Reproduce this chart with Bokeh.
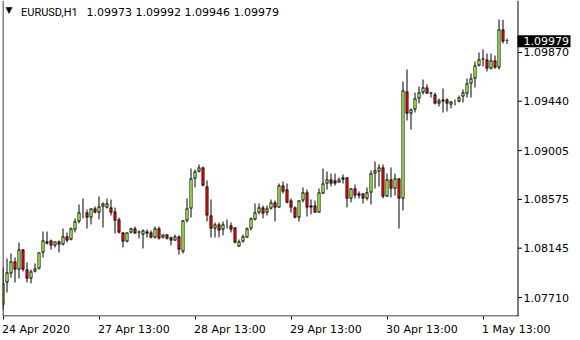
from bokeh.plotting import figure
from bokeh.models import Range1d, FixedTicker, Label, ColumnDataSource, LinearAxis
from bokeh.core.properties import value
from bokeh.embed import file_html
from bokeh.resources import INLINE

symbol = "EURUSD,H1"

opens = [1.07648, 1.07842, 1.07922, 1.08027, 1.07957, 1.08133, 1.07957, 1.07878, 1.07939, 1.07966,
         1.08107, 1.08186, 1.08213, 1.08169, 1.08204, 1.08177, 1.08248, 1.08221, 1.08310, 1.08380,
         1.08459, 1.08459, 1.08415, 1.08495, 1.08459, 1.08512, 1.08504, 1.08504, 1.08468, 1.08398,
         1.08283, 1.08204, 1.08283, 1.08318, 1.08292, 1.08265, 1.08274, 1.08283, 1.08239, 1.08318,
         1.08239, 1.08265, 1.08239, 1.08213, 1.08248, 1.08116, 1.08389, 1.08495, 1.08759, 1.08821,
         1.08856, 1.08689, 1.08433, 1.08318, 1.08354, 1.08310, 1.08345, 1.08345, 1.08327, 1.08160,
         1.08204, 1.08239, 1.08318, 1.08398, 1.08459, 1.08504, 1.08459, 1.08495, 1.08548, 1.08504,
         1.08697, 1.08662, 1.08565, 1.08504, 1.08415, 1.08565, 1.08636, 1.08521, 1.08521, 1.08459,
         1.08627, 1.08715, 1.08750, 1.08742, 1.08724, 1.08750, 1.08768, 1.08583, 1.08671, 1.08627,
         1.08627, 1.08583, 1.08636, 1.08803, 1.08821, 1.08856, 1.08601, 1.08750, 1.08671, 1.08759,
         1.08583, 1.09526, 1.09332, 1.09368, 1.09465, 1.09517, 1.09561, 1.09517, 1.09500, 1.09420,
         1.09438, 1.09456, 1.09412, 1.09438, 1.09438, 1.09482, 1.09509, 1.09597, 1.09641, 1.09755,
         1.09808, 1.09808, 1.09729, 1.09799, 1.09738, 1.10073, 1.09973]

highs = [1.07975, 1.08054, 1.08098, 1.08063, 1.08195, 1.08136, 1.08019, 1.07957, 1.08010, 1.08107,
         1.08292, 1.08292, 1.08221, 1.08204, 1.08213, 1.08318, 1.08283, 1.08327, 1.08407, 1.08530,
         1.08583, 1.08486, 1.08495, 1.08512, 1.08601, 1.08548, 1.08583, 1.08574, 1.08504, 1.08415,
         1.08286, 1.08283, 1.08327, 1.08336, 1.08301, 1.08310, 1.08310, 1.08301, 1.08336, 1.08336,
         1.08265, 1.08268, 1.08248, 1.08265, 1.08257, 1.08392, 1.08583, 1.08847, 1.08839, 1.08883,
         1.08865, 1.08742, 1.08574, 1.08371, 1.08371, 1.08380, 1.08398, 1.08371, 1.08330, 1.08221,
         1.08265, 1.08327, 1.08415, 1.08539, 1.08539, 1.08521, 1.08521, 1.08574, 1.08565, 1.08715,
         1.08733, 1.08715, 1.08583, 1.08512, 1.08568, 1.08680, 1.08662, 1.08574, 1.08565, 1.08671,
         1.08847, 1.08821, 1.08803, 1.08803, 1.08768, 1.08794, 1.08771, 1.08674, 1.08706, 1.08645,
         1.08630, 1.08680, 1.08830, 1.08909, 1.08883, 1.08883, 1.08803, 1.08856, 1.08803, 1.08762,
         1.09614, 1.09720, 1.09376, 1.09517, 1.09570, 1.09632, 1.09588, 1.09520, 1.09517, 1.09465,
         1.09553, 1.09465, 1.09441, 1.09456, 1.09491, 1.09544, 1.09641, 1.09685, 1.09791, 1.09870,
         1.09897, 1.09861, 1.09861, 1.09844, 1.10161, 1.10158, 1.09992]

lows = [1.07604, 1.07754, 1.07886, 1.07842, 1.07878, 1.07939, 1.07842, 1.07834, 1.07931, 1.07957,
        1.08063, 1.08177, 1.08133, 1.08151, 1.08107, 1.08169, 1.08195, 1.08213, 1.08283, 1.08363,
        1.08407, 1.08318, 1.08354, 1.08451, 1.08398, 1.08327, 1.08495, 1.08433, 1.08274, 1.08274,
        1.08151, 1.08195, 1.08274, 1.08274, 1.08230, 1.08142, 1.08239, 1.08230, 1.08230, 1.08221,
        1.08230, 1.08221, 1.08169, 1.08210, 1.08089, 1.08098, 1.08371, 1.08415, 1.08680, 1.08812,
        1.08689, 1.08380, 1.08239, 1.08239, 1.08239, 1.08257, 1.08318, 1.08283, 1.08186, 1.08157,
        1.08195, 1.08236, 1.08301, 1.08389, 1.08442, 1.08407, 1.08433, 1.08486, 1.08380, 1.08501,
        1.08627, 1.08539, 1.08459, 1.08407, 1.08380, 1.08548, 1.08424, 1.08442, 1.08456, 1.08456,
        1.08624, 1.08662, 1.08689, 1.08697, 1.08721, 1.08715, 1.08504, 1.08548, 1.08583, 1.08583,
        1.08539, 1.08565, 1.08530, 1.08671, 1.08689, 1.08583, 1.08598, 1.08592, 1.08609, 1.08318,
        1.08477, 1.09271, 1.09191, 1.09341, 1.09420, 1.09500, 1.09506, 1.09473, 1.09412, 1.09394,
        1.09341, 1.09350, 1.09376, 1.09403, 1.09429, 1.09429, 1.09473, 1.09473, 1.09561, 1.09747,
        1.09747, 1.09703, 1.09720, 1.09726, 1.09720, 1.09949, 1.09946]

closes = [1.07834, 1.07931, 1.08027, 1.07957, 1.08133, 1.07957, 1.07878, 1.07939, 1.07966, 1.08107,
          1.08213, 1.08204, 1.08169, 1.08204, 1.08177, 1.08248, 1.08213, 1.08318, 1.08380, 1.08459,
          1.08460, 1.08415, 1.08495, 1.08459, 1.08512, 1.08539, 1.08539, 1.08459, 1.08389, 1.08283,
          1.08204, 1.08283, 1.08318, 1.08274, 1.08283, 1.08301, 1.08292, 1.08239, 1.08318, 1.08230,
          1.08265, 1.08230, 1.08213, 1.08248, 1.08133, 1.08389, 1.08495, 1.08759, 1.08821, 1.08856,
          1.08697, 1.08433, 1.08318, 1.08354, 1.08301, 1.08354, 1.08345, 1.08310, 1.08195, 1.08204,
          1.08248, 1.08318, 1.08407, 1.08459, 1.08504, 1.08451, 1.08495, 1.08548, 1.08504, 1.08697,
          1.08645, 1.08548, 1.08504, 1.08415, 1.08565, 1.08636, 1.08504, 1.08504, 1.08459, 1.08636,
          1.08715, 1.08750, 1.08715, 1.08715, 1.08750, 1.08768, 1.08583, 1.08671, 1.08609, 1.08609,
          1.08583, 1.08636, 1.08803, 1.08830, 1.08856, 1.08601, 1.08750, 1.08671, 1.08759, 1.08583,
          1.09535, 1.09332, 1.09368, 1.09465, 1.09517, 1.09561, 1.09509, 1.09509, 1.09420, 1.09447,
          1.09456, 1.09420, 1.09438, 1.09438, 1.09473, 1.09517, 1.09597, 1.09641, 1.09755, 1.09808,
          1.09817, 1.09729, 1.09799, 1.09738, 1.10073, 1.09967, 1.09979]

x_tick_bars = [0, 24, 48, 72, 96, 120]
x_tick_labels = ["24 Apr 2020", "27 Apr 13:00", "28 Apr 13:00", "29 Apr 13:00", "30 Apr 13:00", "1 May 13:00"]
y_ticks = [1.07710, 1.08145, 1.08575, 1.09005, 1.09440, 1.09870]

# ---- layout (pixels) ----
W, H = 580, 340
FRAME_L, FRAME_H = 2, 316
FRAME_W = W - FRAME_L          # frame runs to the canvas edge; price scale drawn inside it
CHART_R = 517                  # right edge of the candle area (price scale line)
BAR_PX = 4
X0 = -0.125
Y_TOP, Y_BOT = 1.103284, 1.075425
PX_Y = (Y_TOP - Y_BOT) / FRAME_H
FONT = "DejaVu Sans"
FSIZE = 11

def px_to_x(px):
    return X0 + (px - FRAME_L) / BAR_PX

def py_to_y(py):
    return Y_TOP - py * PX_Y

CHAR_EM = {" ": 0.318, ":": 0.337, "A": 0.684, "M": 0.863, "p": 0.635, "r": 0.411,
           "a": 0.613, "y": 0.592}
def text_px(s):
    return sum(CHAR_EM.get(ch, 0.636) for ch in s) * FSIZE

n = len(opens)
BULL, BEAR = "#8ee635", "#e00000"
tops = [max(o, c) for o, c in zip(opens, closes)]
bots = [min(o, c) for o, c in zip(opens, closes)]
inner_top = [t - PX_Y for t in tops]
inner_bot = [b + PX_Y for b in bots]
inner_ok = [it > ib for it, ib in zip(inner_top, inner_bot)]
src = ColumnDataSource(dict(
    x=list(range(n)), high=highs, low=lows, top=tops, bottom=bots,
    itop=[t if ok else b for t, b, ok in zip(inner_top, inner_bot, inner_ok)],
    ibot=inner_bot,
    fill=[BULL if c >= o else BEAR for o, c in zip(opens, closes)],
    ialpha=[1.0 if ok else 0.0 for ok in inner_ok],
))

p = figure(width=W, height=H, output_backend="svg", toolbar_location=None,
           x_range=Range1d(X0, X0 + FRAME_W / BAR_PX), y_range=Range1d(Y_BOT, Y_TOP),
           y_axis_location=None, x_axis_location=None,
           min_border_left=FRAME_L, min_border_right=0,
           min_border_top=0, min_border_bottom=H - FRAME_H)
p.background_fill_color = "white"
p.border_fill_color = "white"
p.outline_line_color = None
p.grid.visible = False

# candles: wicks, black body, coloured core
p.segment(x0="x", y0="high", x1="x", y1="low", line_color="black", line_width=1, source=src)
p.vbar(x="x", width=0.75, top="top", bottom="bottom", fill_color="black",
       line_alpha=0, source=src)
p.vbar(x="x", width=0.45, top="itop", bottom="ibot", fill_color="fill", fill_alpha="ialpha",
       line_alpha=0, source=src)

# chart borders (left, right, bottom)
xl, xr = px_to_x(FRAME_L + 0.5), px_to_x(CHART_R + 0.5)
yb = py_to_y(FRAME_H - 0.5)
p.segment(x0=[xl, xr, xl], y0=[Y_BOT, Y_BOT, yb], x1=[xl, xr, xr], y1=[Y_TOP, Y_TOP, yb],
          line_color="black", line_width=1)

# price scale: ticks and labels at the y scale positions
p.segment(x0=[xr] * len(y_ticks), y0=y_ticks, x1=[px_to_x(CHART_R + 4.5)] * len(y_ticks),
          y1=y_ticks, line_color="black", line_width=1)
p.text(x=[px_to_x(CHART_R + 6)] * len(y_ticks), y=y_ticks, text=[f"{v:.5f}" for v in y_ticks],
       text_font=value(FONT), text_font_size=value(f"{FSIZE}px"), text_color="black",
       text_baseline="middle", text_align="left")

# last price marker
last = closes[-1]
p.quad(left=[px_to_x(CHART_R)], right=[px_to_x(570)], top=[last + 5 * PX_Y],
       bottom=[last - 7 * PX_Y], fill_color="black", line_alpha=0)
p.text(x=[px_to_x(CHART_R + 6)], y=[last - 1 * PX_Y], text=[f"{last:.5f}"],
       text_font=value(FONT), text_font_size=value(f"{FSIZE}px"), text_color="white",
       text_baseline="middle", text_align="left")

# x axis: ticks only (labels not drawn)
tick_ax = LinearAxis(ticker=FixedTicker(ticks=x_tick_bars))
tick_ax.major_label_text_font_size = "0px"
tick_ax.major_label_text_color = None
tick_ax.major_label_standoff = 0
tick_ax.minor_tick_line_color = None
tick_ax.major_tick_in = 0
tick_ax.major_tick_out = 3
tick_ax.axis_line_color = None
tick_ax.major_tick_line_color = "black"
p.add_layout(tick_ax, "below")

# x axis: labels, placed so that each starts at its tick
shifted = [b + (text_px(t) / 2 - 1) / BAR_PX for b, t in zip(x_tick_bars, x_tick_labels)]
lab_ax = LinearAxis(ticker=FixedTicker(ticks=shifted))
lab_ax.major_label_overrides = {s: t for s, t in zip(shifted, x_tick_labels)}
lab_ax.axis_line_color = None
lab_ax.major_tick_line_color = None
lab_ax.minor_tick_line_color = None
lab_ax.major_tick_in = 0
lab_ax.major_tick_out = 0
lab_ax.major_label_standoff = 3
lab_ax.major_label_text_font = FONT
lab_ax.major_label_text_font_size = f"{FSIZE}px"
lab_ax.major_label_text_color = "black"
p.add_layout(lab_ax, "below")

# header
p.add_layout(Label(x=px_to_x(5), y=py_to_y(9), text="\u25bc", text_font=FONT,
                   text_font_size="9px", text_color="black", text_baseline="alphabetic"))
p.add_layout(Label(x=px_to_x(20.5), y=py_to_y(12.3), text=symbol, text_font="Roboto",
                   text_font_size="11px", text_color="black", text_baseline="alphabetic"))
ohlc_text = f"{opens[-1]:.5f} {highs[-1]:.5f} {lows[-1]:.5f} {closes[-1]:.5f}"
p.add_layout(Label(x=px_to_x(86), y=py_to_y(12.3), text=ohlc_text, text_font=FONT,
                   text_font_size="11px", text_color="black", text_baseline="alphabetic"))

open("out.html", "w").write(file_html(p, INLINE))
